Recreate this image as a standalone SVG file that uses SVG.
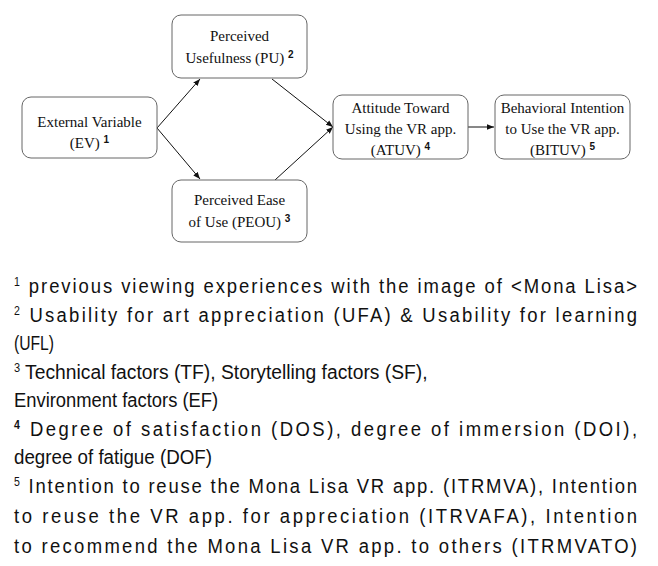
<svg xmlns="http://www.w3.org/2000/svg" width="658" height="566" viewBox="0 0 658 566">
<style>
.box{fill:#fff;stroke:#666;stroke-width:1}
.t{font-family:"Liberation Serif",serif;font-size:15px;fill:#111;text-anchor:middle}
.sup{font-family:"Liberation Sans",sans-serif;font-size:10px;font-weight:bold}
.c{stroke:#111;stroke-width:1;fill:none}
.f{font-family:"Liberation Sans","Noto Sans CJK KR",sans-serif;font-size:21px;fill:#111}
.fs{font-size:12px}
</style>
<defs>
<marker id="ah" viewBox="0 0 10 10" refX="10" refY="5" markerWidth="7" markerHeight="7" orient="auto" markerUnits="userSpaceOnUse">
<path d="M0,1 L10,5 L0,9 z" fill="#111"/>
</marker>
</defs>
<rect width="658" height="566" fill="#fff"/>
<g id="connectors">
<line class="c" x1="157" y1="128" x2="200" y2="79" marker-end="url(#ah)"/>
<line class="c" x1="157" y1="128" x2="200" y2="179" marker-end="url(#ah)"/>
<line class="c" x1="272" y1="79" x2="333" y2="127" marker-end="url(#ah)"/>
<line class="c" x1="275" y1="180" x2="333" y2="127" marker-end="url(#ah)"/>
<line class="c" x1="468" y1="127" x2="494" y2="127" marker-end="url(#ah)"/>
</g>
<g id="EV">
<rect class="box" x="22" y="97" width="135" height="61" rx="9"/>
<text class="t" x="89.5" y="127">External Variable</text>
<text class="t" x="89.5" y="148">(EV) <tspan class="sup" dy="-5">1</tspan></text>
</g>
<g id="PU">
<rect class="box" x="172" y="15" width="135" height="63" rx="9"/>
<text class="t" x="239.5" y="41">Perceived</text>
<text class="t" x="239.5" y="63">Usefulness (PU) <tspan class="sup" dy="-5">2</tspan></text>
</g>
<g id="PEOU">
<rect class="box" x="172" y="180" width="135" height="62" rx="9"/>
<text class="t" x="239.5" y="205">Perceived Ease</text>
<text class="t" x="239.5" y="227">of Use (PEOU) <tspan class="sup" dy="-5">3</tspan></text>
</g>
<g id="ATUV">
<rect class="box" x="333" y="95" width="135" height="64" rx="9"/>
<text class="t" x="400.5" y="113">Attitude Toward</text>
<text class="t" x="400.5" y="134">Using the VR app.</text>
<text class="t" x="400.5" y="155">(ATUV) <tspan class="sup" dy="-5" font-weight="normal">4</tspan></text>
</g>
<g id="BITUV">
<rect class="box" x="495" y="95" width="135" height="64" rx="9"/>
<text class="t" x="562.5" y="113">Behavioral Intention</text>
<text class="t" x="562.5" y="134">to Use the VR app.</text>
<text class="t" x="562.5" y="155">(BITUV) <tspan class="sup" dy="-5" font-weight="normal">5</tspan></text>
</g>
<g id="footnotes" transform="scale(0.88 1)">
<text class="f" x="15.9" y="293" textLength="708" lengthAdjust="spacing"><tspan class="fs" dy="-7">1</tspan><tspan dy="7"> previous viewing experiences with the image of &lt;Mona Lisa&gt;</tspan></text>
<text class="f" x="15.9" y="322" textLength="708" lengthAdjust="spacing"><tspan class="fs" dy="-7">2</tspan><tspan dy="7"> Usability for art appreciation (UFA) &amp; Usability for learning</tspan></text>
<text class="f" x="15.9" y="350" textLength="45.5" lengthAdjust="spacingAndGlyphs">(UFL)</text>
<text class="f" x="15.9" y="379" textLength="470" lengthAdjust="spacingAndGlyphs"><tspan class="fs" dy="-7">3</tspan><tspan dy="7"> Technical factors (TF), Storytelling factors (SF),</tspan></text>
<text class="f" x="15.9" y="407" textLength="232" lengthAdjust="spacingAndGlyphs">Environment factors (EF)</text>
<text class="f" x="15.9" y="436" textLength="708" lengthAdjust="spacing"><tspan class="fs" dy="-7" font-weight="bold">4</tspan><tspan dy="7">   Degree of satisfaction (DOS), degree of immersion (DOI),</tspan></text>
<text class="f" x="15.9" y="464" textLength="225" lengthAdjust="spacingAndGlyphs">degree of fatigue (DOF)</text>
<text class="f" x="15.9" y="493" textLength="708" lengthAdjust="spacing"><tspan class="fs" dy="-7">5</tspan><tspan dy="7"> Intention to reuse the Mona Lisa VR app. (ITRMVA), Intention</tspan></text>
<text class="f" x="15.9" y="523" textLength="708" lengthAdjust="spacing">to reuse the VR app. for appreciation (ITRVAFA), Intention</text>
<text class="f" x="15.9" y="553" textLength="708" lengthAdjust="spacing">to recommend the Mona Lisa VR app. to others (ITRMVATO)</text>
</g>
</svg>
